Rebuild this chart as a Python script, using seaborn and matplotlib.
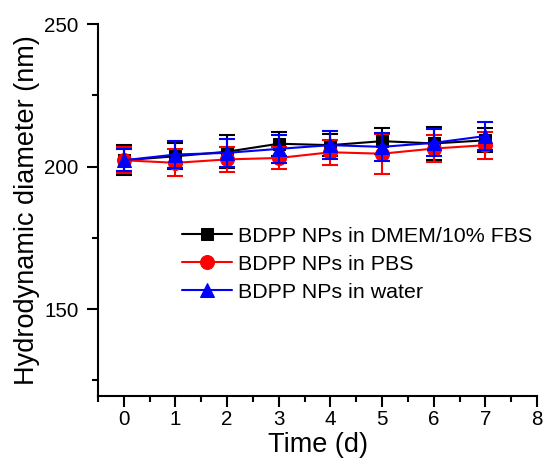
import matplotlib
matplotlib.use("Agg")
import matplotlib.pyplot as plt
import seaborn as sns
import pandas as pd
from matplotlib.ticker import MultipleLocator

days = [0, 1, 2, 3, 4, 5, 6, 7]
dmem = [202.2, 203.6, 205.2, 208.0, 207.5, 208.9, 208.1, 209.2]
dmem_err = [5.2, 4.5, 5.8, 4.2, 3.8, 4.5, 5.7, 4.2]
pbs = [202.2, 201.3, 202.5, 203.0, 205.0, 204.5, 206.3, 207.5]
pbs_err = [4.5, 4.7, 4.5, 4.0, 4.4, 7.0, 4.8, 4.7]
water = [202.2, 204.2, 204.8, 206.2, 207.5, 206.9, 208.3, 210.7]
water_err = [3.8, 4.7, 5.0, 5.0, 4.8, 5.0, 4.7, 5.0]
labels = ["BDPP NPs in DMEM/10% FBS", "BDPP NPs in PBS", "BDPP NPs in water"]

sns.set_style("ticks")
plt.rcParams['font.family'] = ['Liberation Sans', 'DejaVu Sans']
plt.rcParams['text.color'] = 'black'
plt.rcParams['axes.labelcolor'] = 'black'
plt.rcParams['xtick.color'] = 'black'
plt.rcParams['ytick.color'] = 'black'

fig = plt.figure(figsize=(5.45, 4.65), dpi=100)
ax = fig.add_axes([98/545, 1-396/465, 439/545, 372/465])

series = [
    (dmem, dmem_err, "black", "s", 9.0, labels[0]),
    (pbs, pbs_err, "red", "o", 10.0, labels[1]),
    (water, water_err, "blue", "^", 10.5, labels[2]),
]
for i, (vals, errs, col, mk, ms, lab) in enumerate(series):
    df = pd.DataFrame({"day": days, "size": vals})
    ax.errorbar(days, vals, yerr=errs, fmt="none", ecolor=col, elinewidth=1.5,
                capsize=6, capthick=1.5, zorder=2 + i)
    sns.lineplot(data=df, x="day", y="size", ax=ax, color=col, marker=mk,
                 markersize=ms, markeredgecolor=col, linewidth=1.5, label=lab,
                 zorder=2.5 + i)

ax.set_xlim(-0.5, 8)
ax.set_ylim(119.5, 250)
ax.xaxis.set_major_locator(MultipleLocator(1))
ax.xaxis.set_minor_locator(MultipleLocator(0.5))
ax.yaxis.set_major_locator(MultipleLocator(50))
ax.yaxis.set_minor_locator(MultipleLocator(25))
ax.set_yticks([150, 200, 250])
for s in ["top", "right"]:
    ax.spines[s].set_visible(False)
for s in ["left", "bottom"]:
    ax.spines[s].set_linewidth(1.5)
    ax.spines[s].set_color("black")
ax.tick_params(which="major", length=8, width=1.5, labelsize=14.8, color="black",
               labelcolor="black")
ax.tick_params(which="minor", length=4, width=1.5, color="black")
ax.tick_params(axis="x", which="major", pad=2)
ax.tick_params(axis="y", which="major", pad=6)
ax.set_xlabel("Time (d)", fontsize=19.5, labelpad=2, color="black")
ax.set_ylabel("Hydrodynamic diameter (nm)", fontsize=19.5, labelpad=3, color="black")

leg = ax.legend(loc="upper left", bbox_to_anchor=(0.191, 0.455), frameon=False,
                fontsize=15.4, handlelength=2.34, handletextpad=0.28,
                labelspacing=0.42, borderaxespad=0, borderpad=0)
for t in leg.get_texts():
    t.set_color("black")

fig.savefig("out.png", dpi=100)
